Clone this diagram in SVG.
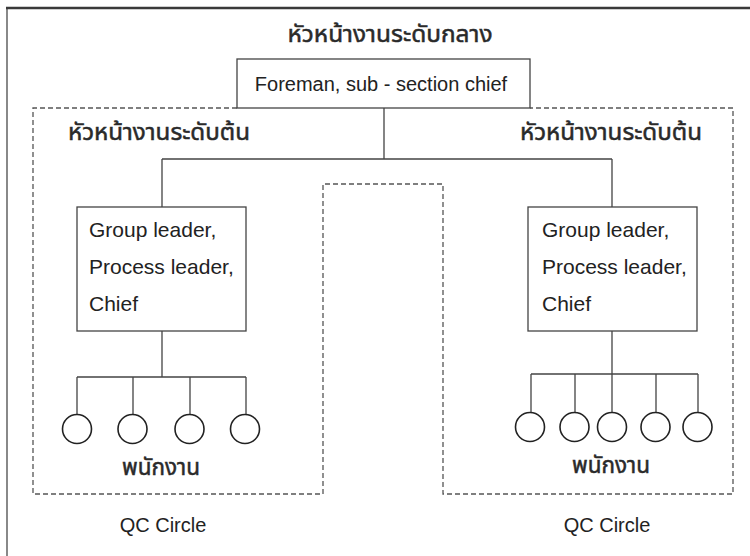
<svg xmlns="http://www.w3.org/2000/svg" width="750" height="556" viewBox="0 0 750 556">
  <style>
    .frame { stroke: #3a3a3a; fill: none; }
    .box { fill: #ffffff; stroke: #444; stroke-width: 1.3; }
    .dash { fill: none; stroke: #555; stroke-width: 1.3; stroke-dasharray: 5 3; }
    .link { fill: none; stroke: #444; stroke-width: 1.3; }
    .member { fill: #ffffff; stroke: #222; stroke-width: 1.6; }
    .en { font-family: "Liberation Sans", Arial, sans-serif; font-size: 20px; fill: #222; }
    .lead { font-size: 21px; }
    .th { font-family: "Noto Sans Thai", "Noto Sans", "DejaVu Sans", sans-serif; font-size: 23px; font-weight: normal; fill: #2a2a2a; stroke: #2a2a2a; stroke-width: 0.5; }
  </style>

  <!-- page frame -->
  <g id="frame">
    <line class="frame" x1="6" y1="8" x2="750" y2="8" stroke-width="2.6"/>
    <line class="frame" x1="7" y1="8" x2="7" y2="556" stroke-width="1.2" stroke="#666"/>
  </g>

  <!-- QC circle boundary (dashed) -->
  <g id="qc-boundary">
    <path class="dash" d="M237,108 H33 V494 H323 V184 H443 V494 H733 V108 H530"/>
  </g>

  <!-- connectors -->
  <g id="connectors">
    <path class="link" d="M384,108 V159 M162,159 H612 M162,159 V207 M612,159 V207"/>
    <path class="link" d="M162,331 V377 M77,377 H246 M77,377 V414 M133,377 V414 M190,377 V414 M246,377 V414"/>
    <path class="link" d="M612,331 V374 M531,374 H698 M531,374 V412 M575,374 V412 M612,374 V412 M656,374 V412 M698,374 V412"/>
  </g>

  <g id="title-middle">
    <text class="th" x="390" y="42" text-anchor="middle" textLength="205" lengthAdjust="spacingAndGlyphs">หัวหน้างานระดับกลาง</text>
  </g>

  <g id="foreman">
    <rect class="box" x="237" y="59" width="293" height="49"/>
    <text class="en" x="381" y="91" text-anchor="middle" font-size="20.5">Foreman, sub - section chief</text>
  </g>

  <g id="label-left">
    <text class="th" x="68" y="140" textLength="182" lengthAdjust="spacingAndGlyphs">หัวหน้างานระดับต้น</text>
  </g>
  <g id="label-right">
    <text class="th" x="520" y="140" textLength="182" lengthAdjust="spacingAndGlyphs">หัวหน้างานระดับต้น</text>
  </g>

  <g id="leader-left">
    <rect class="box" x="77" y="207" width="169" height="124"/>
    <text class="en lead" x="89" y="237">Group leader,</text>
    <text class="en lead" x="89" y="274">Process leader,</text>
    <text class="en lead" x="89" y="311">Chief</text>
  </g>

  <g id="leader-right">
    <rect class="box" x="528" y="207" width="169" height="124"/>
    <text class="en lead" x="542" y="237">Group leader,</text>
    <text class="en lead" x="542" y="274">Process leader,</text>
    <text class="en lead" x="542" y="311">Chief</text>
  </g>

  <g id="members-left">
    <circle class="member" cx="77" cy="429" r="14.5"/>
    <circle class="member" cx="132.5" cy="429" r="14.5"/>
    <circle class="member" cx="189.5" cy="429" r="14.5"/>
    <circle class="member" cx="245" cy="429" r="14.5"/>
    <text class="th" x="161" y="475" text-anchor="middle" textLength="78" lengthAdjust="spacingAndGlyphs">พนักงาน</text>
  </g>

  <g id="members-right">
    <circle class="member" cx="530" cy="427" r="14.5"/>
    <circle class="member" cx="574.5" cy="427" r="14.5"/>
    <circle class="member" cx="612" cy="427" r="14.5"/>
    <circle class="member" cx="655.5" cy="427" r="14.5"/>
    <circle class="member" cx="697.5" cy="427" r="14.5"/>
    <text class="th" x="611" y="473" text-anchor="middle" textLength="78" lengthAdjust="spacingAndGlyphs">พนักงาน</text>
  </g>

  <g id="qc-left">
    <text class="en" x="163" y="532" text-anchor="middle" font-size="18">QC Circle</text>
  </g>
  <g id="qc-right">
    <text class="en" x="607" y="532" text-anchor="middle" font-size="18">QC Circle</text>
  </g>
</svg>
